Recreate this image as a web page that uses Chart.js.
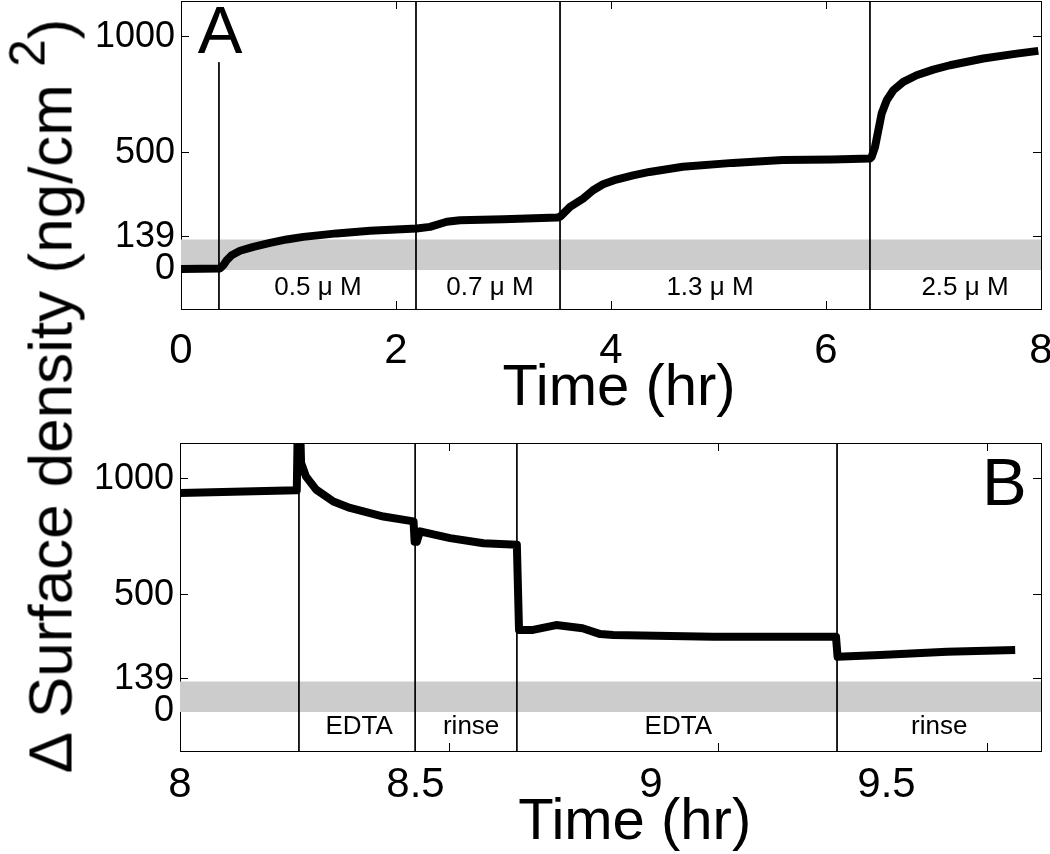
<!DOCTYPE html>
<html>
<head>
<meta charset="utf-8">
<title>Surface density</title>
<script src="https://cdn.jsdelivr.net/npm/chart.js@4.4.1/dist/chart.umd.min.js"></script>
<style>
  html, body { margin: 0; padding: 0; background: #fff; overflow: hidden; }
  #wrap { position: relative; width: 1050px; height: 854px; }
  .panel { position: absolute; left: 0; width: 1050px; }
  #panelA { top: 0; height: 424px; }
  #panelB { top: 424px; height: 430px; }
  #ylab {
    position: absolute; left: 50px; top: 396px;
    transform: translate(-50%, -50%) rotate(-90deg);
    font: 62px "Liberation Sans", Arial, sans-serif;
    white-space: nowrap; color: #000;
  }
  #ylab sup { font-size: 0.8em; vertical-align: 0.55em; line-height: 0; }
</style>
</head>
<body>
<div id="wrap">
  <div class="panel" id="panelA"><canvas id="chartA"></canvas></div>
  <div class="panel" id="panelB"><canvas id="chartB"></canvas></div>
  <div id="ylab">&Delta; Surface density (ng/cm <sup>2</sup>)</div>
</div>
<script>
// panel A - adsorption, protein concentration stepped up
const timeA = [0, 0.363, 0.394, 0.425, 0.471, 0.549, 0.673, 0.828, 0.983, 1.138, 1.448, 1.758, 2.192,
  2.316, 2.472, 2.595, 2.998, 3.50, 3.53, 3.619, 3.740, 3.833, 3.926, 4.05, 4.205, 4.358, 4.668,
  5.133, 5.598, 6.063, 6.409, 6.425, 6.456, 6.487, 6.518, 6.565, 6.626, 6.719, 6.843, 6.998,
  7.153, 7.463, 7.774, 7.975];
const densityA = [0, 2, 16, 37, 59, 78, 95, 112, 127, 138, 153, 164, 174,
  181, 203, 210, 214, 221, 226, 267, 303, 339, 365, 385, 403, 418, 440,
  457, 469, 472, 476, 483, 526, 598, 670, 727, 770, 806, 835, 859,
  878, 907, 928, 940];
const stepsA = [0.353, 2.186, 3.526, 6.409];
const stepTopA = [891, 1155, 1155, 1155];
const concLabels = ['0.5 \u03bc M', '0.7 \u03bc M', '1.3 \u03bc M', '2.5 \u03bc M'];
const concLabelX = [1.274, 2.874, 4.921, 7.293];

// panel B - EDTA / rinse cycles
const timeB = [8.0, 8.217, 8.219, 8.223, 8.225, 8.234, 8.253, 8.285, 8.316, 8.378, 8.434, 8.436,
  8.440, 8.446, 8.502, 8.564, 8.626, 8.630, 8.656, 8.699, 8.748, 8.781, 8.805, 8.991, 9.219,
  9.222, 9.301, 9.425, 9.552];
const densityB = [939, 951, 1250, 1250, 1069, 1011, 954, 903, 875, 838, 817, 729,
  729, 774, 745, 723, 716, 349, 349, 370, 356, 331, 327, 320, 320,
  233, 241, 255, 262];
const stepsB = [8.221, 8.437, 8.626, 9.221];
const stepTopB = [1155, 1155, 1155, 1155];
const bufferLabels = ['EDTA', 'rinse', 'EDTA', 'rinse'];
const bufferLabelX = [8.333, 8.541, 8.926, 9.411];

const yTicks = [0, 139, 500, 1000];
const xTicksA = [0, 2, 4, 6, 8];
const xTicksB = [8, 8.5, 9, 9.5];
const markTicksB = [8.5, 9, 9.5];
const band = [-5, 127];
const xTitle = 'Time (hr)';

const FONT = '"Liberation Sans", Arial, Helvetica, sans-serif';
Chart.defaults.font.family = FONT;
Chart.defaults.color = '#000';

const yMin = -173, yMax = 1155;

// draws the condition labels and the panel letter
const panelText = {
  id: 'panelText',
  afterDatasetsDraw(chart, args, opts) {
    const ctx = chart.ctx;
    const x = chart.scales.x, y = chart.scales.y;
    ctx.save();
    ctx.fillStyle = '#000';
    ctx.textAlign = 'center';
    ctx.textBaseline = 'middle';
    ctx.font = '26px ' + FONT;
    opts.labels.forEach(function (t, i) {
      ctx.fillText(t, x.getPixelForValue(opts.labelX[i]), y.getPixelForValue(opts.labelY));
    });
    ctx.font = '67px ' + FONT;
    ctx.textBaseline = 'alphabetic';
    ctx.fillText(opts.letter, x.getPixelForValue(opts.letterX), y.getPixelForValue(opts.letterY));
    ctx.restore();
  }
};

// fixed axis sizes, no extra room for overhanging labels
function fixSize(prop, size) {
  return function (s) {
    s[prop] = size;
    s.paddingTop = 0;
    s.paddingBottom = 0;
    s.paddingLeft = 0;
    s.paddingRight = 0;
  };
}

function makePanel(id, p) {
  const curve = p.time.map((t, i) => ({ x: t, y: p.density[i] }));
  const datasets = [{
    data: curve,
    borderColor: '#000',
    borderWidth: 8,
    borderJoinStyle: 'round',
    pointRadius: 0,
    tension: 0,
    order: 0
  }];
  p.steps.forEach(function (s, i) {
    datasets.push({
      data: [{ x: s, y: p.stepTop[i] }, { x: s, y: yMin }],
      borderColor: '#000',
      borderWidth: 1,
      pointRadius: 0,
      order: 1
    });
  });
  datasets.push({
    data: [{ x: p.xMin, y: band[1] }, { x: p.xMax, y: band[1] }],
    borderWidth: 0,
    pointRadius: 0,
    backgroundColor: '#cccccc',
    fill: { value: band[0] },
    order: 2
  });

  const tickGrid = { drawOnChartArea: false, tickLength: -8, color: '#000', lineWidth: 1 };
  const edge = { display: true, color: '#000', width: 1 };
  const marks = (s) => { s.ticks = p.markTicks.map(v => ({ value: v })); };

  return new Chart(document.getElementById(id), {
    type: 'line',
    data: { datasets: datasets },
    options: {
      responsive: true,
      maintainAspectRatio: false,
      animation: false,
      parsing: false,
      layout: { padding: { left: 0, right: 9, top: p.padTop, bottom: 0 }, autoPadding: false },
      plugins: {
        legend: { display: false },
        tooltip: { enabled: false },
        panelText: {
          labels: p.labels, labelX: p.labelX, labelY: p.labelY,
          letter: p.letter, letterX: p.letterX, letterY: p.letterY
        }
      },
      scales: {
        // data axis: inward tick marks only
        x: {
          type: 'linear', position: 'bottom', weight: 0, min: p.xMin, max: p.xMax,
          afterBuildTicks: marks,
          afterFit: fixSize('height', 0),
          ticks: { display: false },
          grid: tickGrid,
          border: edge
        },
        // label axis: tick numbers and title
        xl: {
          type: 'linear', position: 'bottom', weight: 1, min: p.xMin, max: p.labelMax,
          afterBuildTicks: (s) => { s.ticks = p.xTicks.map(v => ({ value: v })); },
          afterFit: fixSize('height', p.xHeight),
          ticks: { font: { size: 42 }, padding: p.xPad, autoSkip: false, maxRotation: 0, callback: v => String(v) },
          grid: { display: false },
          border: { display: false },
          title: {
            display: true, text: ' '.repeat(p.titleShift) + xTitle,
            font: { size: 58 }, padding: { top: 0, bottom: p.titlePad }
          }
        },
        x2: {
          type: 'linear', position: 'top', min: p.xMin, max: p.xMax,
          afterBuildTicks: marks,
          afterFit: fixSize('height', 0),
          ticks: { display: false },
          grid: tickGrid,
          border: edge
        },
        y: {
          type: 'linear', position: 'left', min: yMin, max: yMax,
          afterBuildTicks: (s) => { s.ticks = yTicks.map(v => ({ value: v })); },
          afterFit: fixSize('width', p.yWidth),
          ticks: { font: { size: 36 }, padding: 14, autoSkip: false, callback: v => String(v) },
          grid: tickGrid,
          border: edge
        },
        y2: {
          type: 'linear', position: 'right', min: yMin, max: yMax,
          afterBuildTicks: (s) => { s.ticks = yTicks.map(v => ({ value: v })); },
          afterFit: fixSize('width', 0),
          ticks: { display: false },
          grid: tickGrid,
          border: edge
        }
      }
    },
    plugins: [panelText]
  });
}

const chartA = makePanel('chartA', {
  time: timeA, density: densityA, steps: stepsA, stepTop: stepTopA,
  xMin: 0, xMax: 8, labelMax: 8, xTicks: xTicksA, markTicks: xTicksA,
  labels: concLabels, labelX: concLabelX, labelY: -83,
  letter: 'A', letterX: 0.363, letterY: 930,
  padTop: 1, xHeight: 115, xPad: 9, titlePad: 0, titleShift: 1, yWidth: 181
});

const chartB = makePanel('chartB', {
  time: timeB, density: densityB, steps: stepsB, stepTop: stepTopB,
  xMin: 8, xMax: 9.6, labelMax: 9.828, xTicks: xTicksB, markTicks: markTicksB,
  labels: bufferLabels, labelX: bufferLabelX, labelY: -70,
  letter: 'B', letterX: 9.532, letterY: 889,
  padTop: 19, xHeight: 103, xPad: 1, titlePad: -4, titleShift: 3, yWidth: 180
});
</script>
</body>
</html>
